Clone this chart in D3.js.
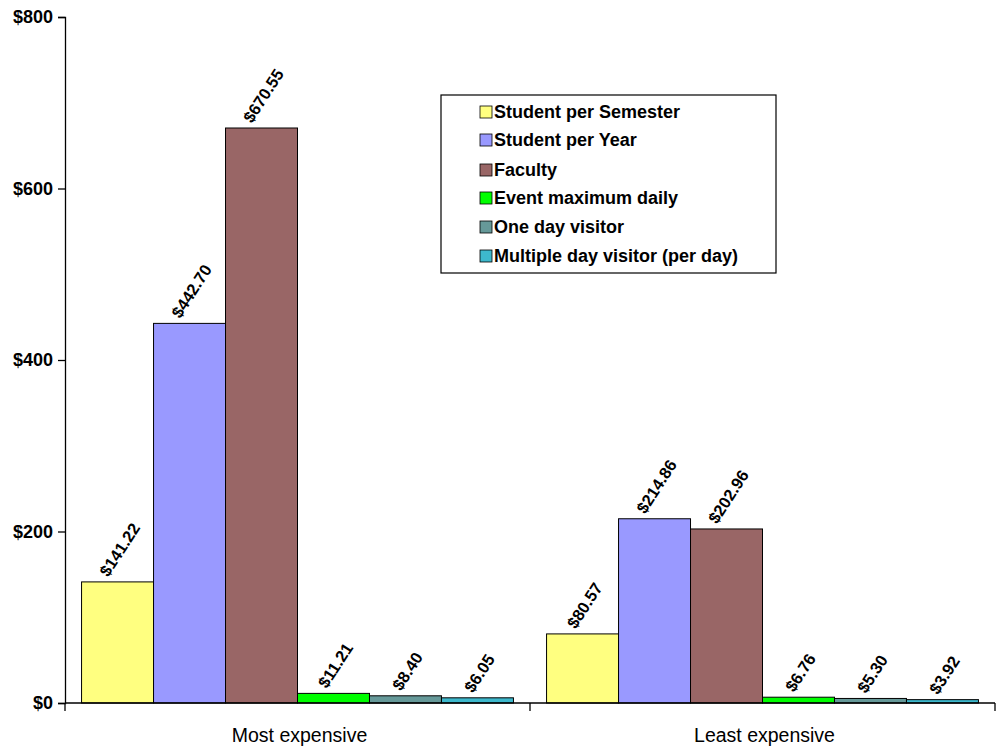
<!DOCTYPE html>
<html><head><meta charset="utf-8">
<script src="https://cdn.jsdelivr.net/npm/d3@7"></script>
<style>body{margin:0;background:#fff}svg{display:block}text{font-family:"Liberation Sans",Arial,sans-serif}</style>
</head><body><svg id="c" width="998" height="748"></svg>
<script>
const categories = ["Most expensive", "Least expensive"];
const seriesNames = ["Student per Semester","Student per Year","Faculty","Event maximum daily","One day visitor","Multiple day visitor (per day)"];
const studentSemester = [141.22, 80.57];
const studentYear = [442.70, 214.86];
const faculty = [670.55, 202.96];
const eventDaily = [11.21, 6.76];
const oneDay = [8.40, 5.30];
const multiDay = [6.05, 3.92];
const yTicks = [0, 200, 400, 600, 800];
const colors = ["#FFFF80","#9999FF","#996666","#00FF00","#669999","#3DB8CC"];
const series = [studentSemester, studentYear, faculty, eventDaily, oneDay, multiDay];

const svg = d3.select("#c");
const L = 65, R = 995, T = 17, B = 703;
const x0 = d3.scaleBand().domain(categories).range([L, R]).paddingInner(0).paddingOuter(0);
const x1 = d3.scaleBand().domain(d3.range(seriesNames.length)).range([0, x0.bandwidth()]).paddingOuter(0.23).paddingInner(0);
const y = d3.scaleLinear().domain([0, 800]).range([B, T]);
const ang = 57, rad = ang * Math.PI / 180;

// bars
categories.forEach((c, ci) => {
  const g = svg.append("g").attr("transform", `translate(${x0(c)},0)`);
  series.forEach((s, si) => {
    g.append("rect").attr("x", x1(si)).attr("y", y(s[ci])).attr("width", x1.bandwidth()).attr("height", B - y(s[ci]))
      .attr("fill", colors[si]).attr("stroke", "#000").attr("stroke-width", 1);
    const cx = x1(si) + x1.bandwidth() / 2;
    const t = g.append("text").attr("text-anchor", "middle").attr("dy", "0.35em").attr("font-size", 16.5)
      .attr("font-weight", "bold").attr("fill", "#000").text("$" + s[ci].toFixed(2));
    const w = t.node().getComputedTextLength();
    const h = 12;
    const vy = (w / 2) * Math.sin(rad) + (h / 2) * Math.cos(rad) + 4;
    t.attr("transform", `translate(${cx + 2},${y(s[ci]) - vy}) rotate(${-ang})`);
  });
});

// y axis
const yAxis = d3.axisLeft(y).tickValues(yTicks).tickSize(7).tickFormat(d => "$" + d);
const ya = svg.append("g").attr("transform", `translate(${L},0)`).call(yAxis);
ya.select(".domain").attr("stroke", "#000").attr("stroke-width", 1.3);
ya.selectAll(".tick line").attr("stroke", "#000").attr("stroke-width", 1.3);
ya.selectAll(".tick text").attr("font-size", 18).attr("font-weight", "bold").attr("fill", "#000")
  .attr("font-family", '"Liberation Sans",Arial,sans-serif').attr("x", -12);

// x axis
const xa = svg.append("g").attr("transform", `translate(0,${B})`);
xa.append("line").attr("x1", L).attr("x2", R).attr("stroke", "#000").attr("stroke-width", 1.3);
const bounds = [L].concat(categories.map(c => x0(c) + x0.bandwidth()));
bounds.forEach(b => xa.append("line").attr("x1", b).attr("x2", b).attr("y1", 0).attr("y2", 8).attr("stroke", "#000").attr("stroke-width", 1.3));
categories.forEach(c => xa.append("text").attr("x", x0(c) + x0.bandwidth() / 2 + 2).attr("y", 39)
  .attr("text-anchor", "middle").attr("font-size", 19.5).attr("fill", "#000").text(c));

// legend
const lg = svg.append("g");
lg.append("rect").attr("x", 441).attr("y", 95).attr("width", 335).attr("height", 178)
  .attr("fill", "#fff").attr("stroke", "#000").attr("stroke-width", 1.2);
const rowsY = [112, 140, 170, 198, 227, 256];
seriesNames.forEach((n, i) => {
  lg.append("rect").attr("x", 480).attr("y", rowsY[i] - 6).attr("width", 12).attr("height", 12)
    .attr("fill", colors[i]).attr("stroke", "#000").attr("stroke-width", 0.8);
  lg.append("text").attr("x", 494).attr("y", rowsY[i]).attr("dy", "0.35em").attr("font-size", 18)
    .attr("font-weight", "bold").attr("fill", "#000").text(n);
});
</script></body></html>
